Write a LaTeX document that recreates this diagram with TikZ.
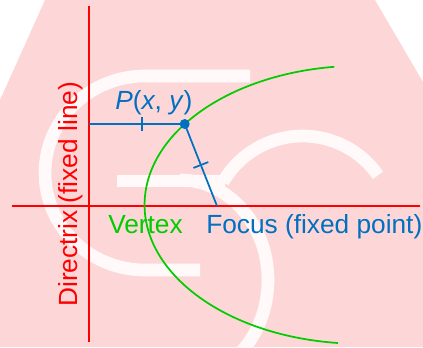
\documentclass[tikz,border=0pt]{standalone}
\usepackage{fontspec}
\setmainfont{Liberation Sans}
\usetikzlibrary{calc}
\definecolor{dirred}{RGB}{255,0,0}
\definecolor{focblue}{RGB}{0,112,192}
\definecolor{vertgreen}{RGB}{0,204,0}
\definecolor{wmpink}{RGB}{253,215,215}
\tikzset{
  redline/.style={draw=dirred, line width=1.5pt},
  blueline/.style={draw=focblue, line width=1.3pt},
  curveline/.style={draw=vertgreen, line width=1.3pt},
  wmstroke/.style={draw=white!85!wmpink, line width=9.5pt},
  lbl/.style={inner sep=0pt, font=\fontsize{19.7}{23}\selectfont}
}

\begin{document}
\begin{tikzpicture}[x=0.75pt, y=-0.75pt]
\useasboundingbox (0,0) rectangle (423,347);

% faint background mark
\fill[wmpink] (45,0) -- (375,0) -- (423,82) -- (423,347) -- (0,347) -- (0,100) -- cycle;
\draw[wmstroke] (250,76) -- (145,76) arc[start angle=270, end angle=90, x radius=100, y radius=97] -- (200,270);
\draw[wmstroke] (117,181) -- (225,181);
\draw[wmstroke] (180,180) arc[start angle=270, end angle=420, x radius=88, y radius=100];
\draw[wmstroke] (223,182) arc[start angle=210, end angle=325, radius=92];

% directrix and axis
\coordinate (dtop) at (89,6);
\coordinate (dbot) at (89,342);
\coordinate (axl) at (12,206);
\coordinate (axr) at (420,206);
\draw[redline] (dtop) -- (dbot);
\draw[redline] (axl) -- (axr);

% labels
\node[lbl, text=focblue, anchor=base west] (ptlabel) at (115,109) {\textit{P}(\textit{x}, \textit{y})};
\node[lbl, text=vertgreen, anchor=base west] (vertex) at (108,233) {Vertex};
\node[lbl, text=focblue, anchor=base west] (focus) at (206,233) {Focus (fixed point)};
\node[lbl, text=dirred, anchor=base west, rotate=90] (directrix) at (77,307) {Directrix (fixed line)};

% the curve
\coordinate (cbot) at (338,343);
\draw[curveline] (cbot) arc[start angle=96, end angle=263, x radius=216, y radius=139];

% equal distances
\coordinate (P) at (184.7,124);
\coordinate (D) at (89,124);
\coordinate (F) at (217,206);
\draw[blueline] (D) -- (P) -- (F);
\coordinate (m1) at ($(D)!0.55!(P)$);
\coordinate (m2) at ($(P)!0.5!(F)$);
\draw[blueline] ($(m1)!5.25pt!90:(P)$) -- ($(m1)!5.25pt!-90:(P)$);
\draw[blueline] ($(m2)!6pt!90:(F)$) -- ($(m2)!6pt!-90:(F)$);
\fill[focblue] (P) circle[radius=3.75pt];

\end{tikzpicture}
\end{document}
